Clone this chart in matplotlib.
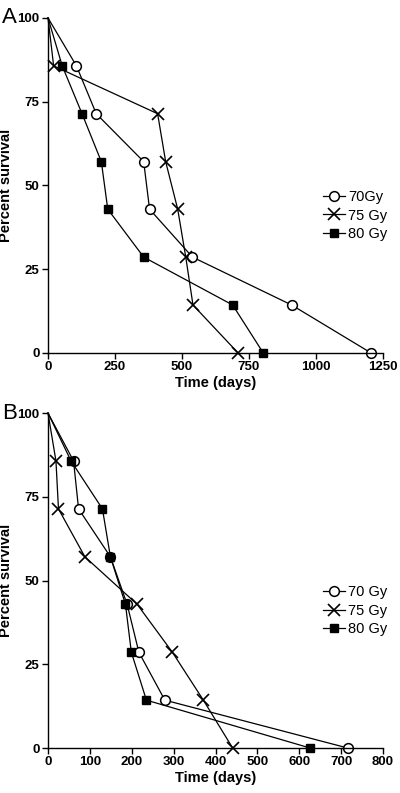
import numpy as np
import matplotlib
matplotlib.use("Agg")
import matplotlib.pyplot as plt

plt.rcParams['font.family'] = ['Liberation Sans', 'DejaVu Sans']

surv = [100, 85.7, 71.4, 57.1, 42.9, 28.6, 14.3, 0]

# panel A
a_70 = [0, 106, 180, 357, 379, 539, 909, 1205]
a_75 = [0, 21, 409, 439, 484, 514, 541, 709]
a_80 = [0, 53, 127, 199, 223, 357, 689, 803]
a_labels = ['70Gy', '75 Gy', '80 Gy']

# panel B
b_70 = [0, 61, 73, 149, 189, 217, 279, 716]
b_75 = [0, 19, 25, 88, 213, 297, 371, 441]
b_80 = [0, 55, 130, 149, 185, 199, 235, 626]
b_labels = ['70 Gy', '75 Gy', '80 Gy']

fig = plt.figure(figsize=(4.0, 7.93), dpi=100)
ax1 = fig.add_axes([0.12, 0.555, 0.8375, 0.4224])
ax2 = fig.add_axes([0.12, 0.0567, 0.8375, 0.4224])


def panel(ax, s70, s75, s80, labels, xmax, xticks, letter):
    skip = slice(1, None)
    ax.plot(s70, surv, color='k', lw=0.9, marker='o', ms=7, mfc='white', mec='k', mew=1.1,
            markevery=skip, label=labels[0])
    ax.plot(s75, surv, color='k', lw=0.9, marker='x', ms=8, mew=1.2,
            markevery=skip, label=labels[1])
    ax.plot(s80, surv, color='k', lw=0.9, marker='s', ms=5.5, mfc='k', mec='k',
            markevery=skip, label=labels[2])
    ax.set_xlim(0, xmax)
    ax.set_ylim(0, 100)
    ax.set_xticks(xticks)
    ax.set_yticks([0, 25, 50, 75, 100])
    for sp in ['top', 'right']:
        ax.spines[sp].set_visible(False)
    ax.spines['left'].set_linewidth(1.0)
    ax.spines['bottom'].set_linewidth(1.0)
    ax.tick_params(direction='out', length=4, width=1.0, labelsize=9.5, pad=2)
    for t in ax.get_xticklabels() + ax.get_yticklabels():
        t.set_fontweight('bold')
    ax.set_xlabel('Time (days)', fontsize=10.5, fontweight='bold', labelpad=2)
    ax.set_ylabel('Percent survival', fontsize=10.5, fontweight='bold', labelpad=3)
    for line in ax.lines:
        line.set_clip_on(False)
    ax.legend(loc='center left', bbox_to_anchor=(0.8, 0.41), frameon=False, fontsize=10.5,
              handlelength=1.5, handletextpad=0.2, labelspacing=0.3, borderpad=0)
    ax.text(-0.115, 1.0, letter, transform=ax.transAxes, fontsize=16, ha='center', va='center')


panel(ax1, a_70, a_75, a_80, a_labels, 1250, [0, 250, 500, 750, 1000, 1250], 'A')
panel(ax2, b_70, b_75, b_80, b_labels, 800, np.arange(0, 801, 100), 'B')

fig.savefig('out.png', dpi=100)
